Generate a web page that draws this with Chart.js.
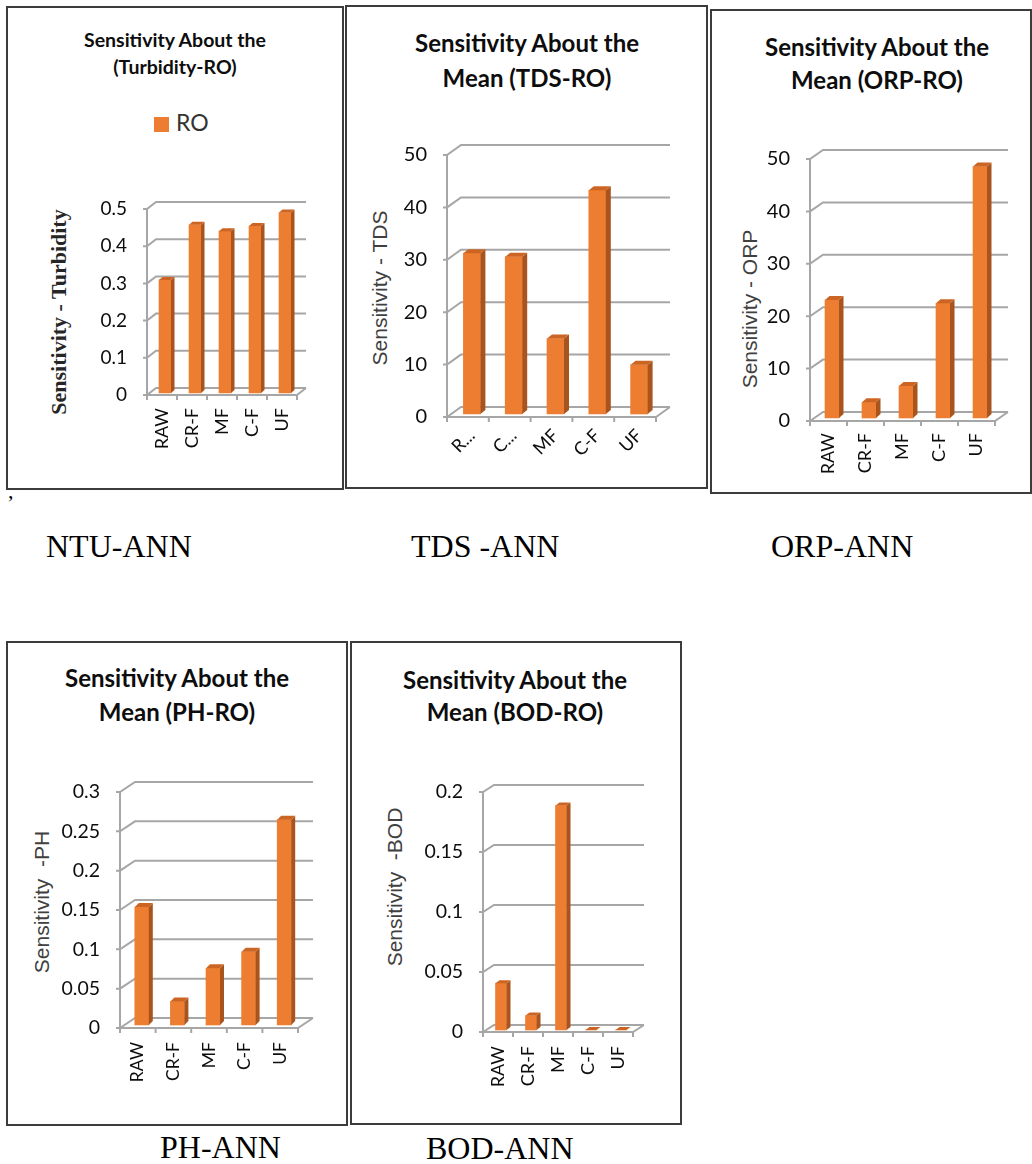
<!DOCTYPE html>
<html>
<head>
<meta charset="utf-8">
<script src="https://cdn.jsdelivr.net/npm/chart.js@4.4.1/dist/chart.umd.min.js"></script>
<style>
  body { margin: 0; width: 1032px; height: 1164px; background: #fff; position: relative; overflow: hidden; }
  .box { position: absolute; border: 2px solid #3c3c3c; box-sizing: border-box; }
  canvas { position: absolute; }
  .title { position: absolute; font-family: Lato, sans-serif; font-weight: 700; color: #0d0d0d;
           text-align: center; white-space: nowrap; transform: translateX(-50%); }
  .ytitle { position: absolute; white-space: pre; transform: translate(-50%, -50%) rotate(-90deg); }
  .sans { font-family: "Liberation Sans", Arial, sans-serif; font-size: 21px; color: #404040; }
  .caption { position: absolute; font-family: "Liberation Serif", serif; font-size: 32px; line-height: 32px;
             color: #000; white-space: pre; }
  .legend { position: absolute; font-family: Lato, sans-serif; font-size: 23px; line-height: 22px; color: #333; }
  .legend span { display: inline-block; width: 15px; height: 15px; background: #ed7d31; margin-right: 7px; vertical-align: -1px; }
</style>
</head>
<body>

<div class="box" style="left:6px;top:6px;width:338px;height:484px"></div>
<div class="box" style="left:345px;top:5px;width:363px;height:484px"></div>
<div class="box" style="left:710px;top:9px;width:322px;height:485px"></div>
<div class="box" style="left:6px;top:641px;width:342px;height:485px"></div>
<div class="box" style="left:350px;top:641px;width:332px;height:484px"></div>

<div class="title" style="left:175px;top:26px;font-size:19.5px;line-height:27px">Sensitivity About the<br>(Turbidity-RO)</div>
<div class="title" style="left:527px;top:25px;font-size:24px;line-height:35px">Sensitivity About the<br>Mean (TDS-RO)</div>
<div class="title" style="left:877px;top:30px;font-size:24px;line-height:33px">Sensitivity About the<br>Mean (ORP-RO)</div>
<div class="title" style="left:177px;top:661px;font-size:24px;line-height:34px">Sensitivity About the<br>Mean (PH-RO)</div>
<div class="title" style="left:515px;top:664px;font-size:24px;line-height:32px">Sensitivity About the<br>Mean (BOD-RO)</div>

<div class="legend" style="left:154px;top:111px"><span></span>RO</div>

<div class="ytitle" style="left:59px;top:312px;font-family:'Liberation Serif',serif;font-weight:700;font-size:22px;color:#262626">Sensitivity - Turbidity</div>
<div class="ytitle sans" style="left:380px;top:288px">Sensitivity - TDS</div>
<div class="ytitle sans" style="left:750px;top:309px">Sensitivity - ORP</div>
<div class="ytitle sans" style="left:42px;top:902px">Sensitivity  -PH</div>
<div class="ytitle sans" style="left:395px;top:887px">Sensitivity  -BOD</div>

<div class="caption" style="left:8px;top:480px;font-size:22px;line-height:22px">,</div>
<div class="caption" style="left:46px;top:530px">NTU-ANN</div>
<div class="caption" style="left:411px;top:530px">TDS -ANN</div>
<div class="caption" style="left:771px;top:530px">ORP-ANN</div>
<div class="caption" style="left:160px;top:1131px">PH-ANN</div>
<div class="caption" style="left:426px;top:1132px">BOD-ANN</div>

<script>
// categories shared by the five panels
const categories = ['RAW', 'CR-F', 'MF', 'C-F', 'UF'];
// the TDS panel shows its first two labels cut short
const tdsTickLabels = ['R...', 'C...', 'MF', 'C-F', 'UF'];

// sensitivity about the mean, RO series, one array per panel
const turbidityRO = [0.304, 0.452, 0.435, 0.449, 0.485];
const tdsRO = [30.7, 30.0, 14.4, 42.7, 9.4];
const orpRO = [22.5, 3.0, 6.1, 21.9, 48.0];
const phRO = [0.150, 0.030, 0.072, 0.093, 0.261];
const bodRO = [0.039, 0.012, 0.187, 0, 0];

// y tick values
const turbidityTicks = [0, 0.1, 0.2, 0.3, 0.4, 0.5];
const tdsTicks = [0, 10, 20, 30, 40, 50];
const orpTicks = [0, 10, 20, 30, 40, 50];
const phTicks = [0, 0.05, 0.1, 0.15, 0.2, 0.25, 0.3];
const bodTicks = [0, 0.05, 0.1, 0.15, 0.2];

// draws the Excel-like 3D walls, floor and the side/top faces of the bars
const depth3d = {
  id: 'depth3d',
  beforeDatasetsDraw(chart, args, o) {
    const { ctx, chartArea: a, scales: { x, y } } = chart;
    const [dx, dy] = o.wall;
    ctx.save();
    ctx.strokeStyle = '#a6a6a6';
    ctx.lineWidth = 2;
    ctx.beginPath();
    y.ticks.forEach(t => {
      const py = y.getPixelForValue(t.value);
      ctx.moveTo(a.left - 4, py);
      ctx.lineTo(a.left, py);
      ctx.lineTo(a.left + dx, py - dy);
      ctx.lineTo(a.right + dx, py - dy);
    });
    ctx.moveTo(a.left, a.top);
    ctx.lineTo(a.left, a.bottom + 5);
    ctx.moveTo(a.left, a.bottom);
    ctx.lineTo(a.right, a.bottom);
    ctx.lineTo(a.right + dx, a.bottom - dy);
    for (let i = 0; i <= x.ticks.length; i++) {
      const px = x.getPixelForValue(i - 0.5);
      ctx.moveTo(px, a.bottom);
      ctx.lineTo(px, a.bottom + 5);
    }
    ctx.stroke();
    ctx.restore();
    // bars stand a little inside the floor
    ctx.save();
    ctx.translate(o.shift[0], o.shift[1]);
  },
  afterDatasetsDraw(chart, args, o) {
    const { ctx } = chart;
    const [bx, by] = o.depth;
    chart.getDatasetMeta(0).data.forEach(bar => {
      const { x, y, base, width } = bar.getProps(['x', 'y', 'base', 'width'], true);
      const l = x - width / 2, r = x + width / 2;
      ctx.fillStyle = '#a8541c';
      ctx.beginPath();
      ctx.moveTo(r, y); ctx.lineTo(r + bx, y - by); ctx.lineTo(r + bx, base - by); ctx.lineTo(r, base);
      ctx.closePath(); ctx.fill();
      ctx.fillStyle = '#cc6523';
      ctx.beginPath();
      ctx.moveTo(l, y); ctx.lineTo(l + bx, y - by); ctx.lineTo(r + bx, y - by); ctx.lineTo(r, y);
      ctx.closePath(); ctx.fill();
    });
    ctx.restore();
  }
};

// page layout of each panel: box = outer frame, plot = front face of the plot area
const panels = [
  { box: [6, 6, 343, 489], plot: [147, 209, 297, 395], labels: categories, values: turbidityRO, ticks: turbidityTicks,
    rotation: 90, labelPad: 13, labelOffset: 0, yFont: 19, xFont: 18, bar: 12, wall: [9, 7], depth: [3.5, 3], shift: [3, -2] },
  { box: [346, 6, 707, 488], plot: [447, 155, 656, 417], labels: tdsTickLabels, values: tdsRO, ticks: tdsTicks,
    rotation: 45, labelPad: 8, labelOffset: 4, yFont: 20, xFont: 18, bar: 17, wall: [14, 10], depth: [5, 4], shift: [4, -3] },
  { box: [711, 10, 1031, 493], plot: [810, 159, 995, 421], labels: categories, values: orpRO, ticks: orpTicks,
    rotation: 90, labelPad: 12, labelOffset: 0, yFont: 20, xFont: 18, bar: 14, wall: [13, 9], depth: [4.5, 4], shift: [3.5, -3] },
  { box: [7, 642, 347, 1125], plot: [120, 792, 298, 1028], labels: categories, values: phRO, ticks: phTicks,
    rotation: 90, labelPad: 14, labelOffset: 0, yFont: 19.5, xFont: 17.5, bar: 14, wall: [15, 10], depth: [4, 4], shift: [4, -3] },
  { box: [351, 642, 681, 1124], plot: [483, 792, 633, 1032], labels: categories, values: bodRO, ticks: bodTicks,
    rotation: 90, labelPad: 14, labelOffset: 0, yFont: 19.5, xFont: 18, bar: 11, wall: [11, 7], depth: [4, 3], shift: [3, -2] },
];

panels.forEach(p => {
  const [bl, bt, br, bb] = p.box;
  const [pl, pt, pr, pb] = p.plot;
  const W = br - bl, H = bb - bt;
  const cv = document.createElement('canvas');
  cv.width = W; cv.height = H;
  cv.style.left = bl + 'px'; cv.style.top = bt + 'px';
  cv.style.width = W + 'px'; cv.style.height = H + 'px';
  document.body.appendChild(cv);

  new Chart(cv, {
    type: 'bar',
    data: {
      labels: p.labels,
      datasets: [{ label: 'RO', data: p.values, backgroundColor: '#ed7d31', barThickness: p.bar, clip: false }]
    },
    options: {
      responsive: false,
      animation: false,
      devicePixelRatio: 1,
      layout: { padding: { left: 0, top: pt - bt, right: br - pr, bottom: 0 } },
      plugins: {
        legend: { display: false },
        title: { display: false },
        tooltip: { enabled: false },
        depth3d: { wall: p.wall, depth: p.depth, shift: p.shift }
      },
      scales: {
        x: {
          grid: { display: false, drawTicks: false },
          border: { display: false },
          ticks: {
            autoSkip: false, minRotation: p.rotation, maxRotation: p.rotation,
            padding: p.labelPad, labelOffset: p.labelOffset,
            font: { family: 'Lato', size: p.xFont }, color: '#0d0d0d'
          },
          afterFit: s => { s.height = bb - pb; }
        },
        y: {
          min: 0,
          max: p.ticks[p.ticks.length - 1],
          grid: { display: false, drawTicks: false },
          border: { display: false },
          ticks: {
            padding: 20, font: { family: 'Lato', size: p.yFont }, color: '#0d0d0d',
            callback: v => String(v)
          },
          afterBuildTicks: s => { s.ticks = p.ticks.map(v => ({ value: v })); },
          afterFit: s => { s.width = pl - bl; }
        }
      }
    },
    plugins: [depth3d]
  });
});
</script>
</body>
</html>
